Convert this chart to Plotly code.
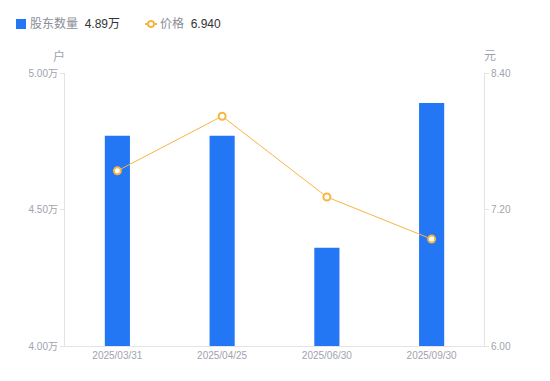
import plotly.graph_objects as go

dates = ["2025/03/31", "2025/04/25", "2025/06/30", "2025/09/30"]
holders = [4.77, 4.77, 4.36, 4.89]  # 万户
prices = [7.54, 8.02, 7.31, 6.94]   # 元
left_ticks = [4.00, 4.50, 5.00]
right_ticks = [6.00, 7.20, 8.40]

FONT = "Liberation Sans, Noto Sans CJK SC, sans-serif"
BLUE = "#2477F4"
ORANGE = "#F7B542"
GREY = "#A0A3AD"
LEG_GREY = "#8A8D97"
AXIS = "#E3E4E8"

OFF = 8  # page body margin
W, H = 550 - OFF, 381 - OFF
L, T = 65 - OFF, 73 - OFF
R = W - (484 - OFF)
B = H - (346 - OFF)
PW, PH = W - L - R, H - T - B


def px(x):  # screenshot pixel -> paper x
    return (x - OFF - L) / PW


def py(y):  # screenshot pixel -> paper y
    return (H - B - (y - OFF)) / PH


fig = go.Figure()
fig.add_trace(go.Bar(
    x=dates, y=holders, width=0.24, marker_color=BLUE, marker_line_width=0,
    yaxis="y", name="股东数量",
))
fig.add_trace(go.Scatter(
    x=dates, y=prices, mode="lines+markers", yaxis="y2",
    line=dict(color=ORANGE, width=1),
    marker=dict(symbol="circle", size=7, color="white", line=dict(color=ORANGE, width=2)),
    name="价格",
))

fig.update_layout(
    width=W, height=H,
    margin=dict(l=L, r=R, t=T, b=B, autoexpand=False),
    paper_bgcolor="white", plot_bgcolor="white",
    font=dict(family=FONT, size=11, color=GREY),
    showlegend=False,
    xaxis=dict(type="category", range=[-0.5, 3.5], showgrid=False,
               showline=True, linecolor=AXIS, linewidth=1, ticks="",
               tickfont=dict(size=10, color=GREY)),
    yaxis=dict(range=[4.0, 5.0], tickvals=left_ticks,
               ticktext=["%.2f万" % v for v in left_ticks],
               showgrid=False, zeroline=False, showline=True, linecolor=AXIS,
               ticks="outside", ticklen=4, tickcolor=AXIS,
               tickfont=dict(size=10, color=GREY)),
    yaxis2=dict(range=[6.0, 8.4], tickvals=right_ticks,
                ticktext=["%.2f" % v for v in right_ticks],
                overlaying="y", side="right",
                showgrid=False, zeroline=False, showline=True, linecolor=AXIS,
                ticks="outside", ticklen=4, tickcolor=AXIS,
                tickfont=dict(size=10, color=GREY)),
)

# axis unit labels
fig.add_annotation(text="户", xref="paper", yref="paper", x=px(59), y=py(56),
                   xanchor="center", yanchor="middle",
                   showarrow=False, font=dict(size=12, color=GREY))
fig.add_annotation(text="元", xref="paper", yref="paper", x=px(490), y=py(56),
                   xanchor="center", yanchor="middle",
                   showarrow=False, font=dict(size=12, color=GREY))

# custom legend
fig.add_shape(type="rect", xref="paper", yref="paper",
              x0=px(16), x1=px(26), y0=py(29), y1=py(19),
              fillcolor=BLUE, line=dict(width=0))
fig.add_annotation(xref="paper", yref="paper", x=px(28), y=py(24),
                   xanchor="left", yanchor="middle", showarrow=False,
                   text="股东数量  <span style='color:#333333'>%.2f万</span>" % holders[-1],
                   font=dict(size=12, color=LEG_GREY))
fig.add_shape(type="line", xref="paper", yref="paper",
              x0=px(145), x1=px(157), y0=py(24), y1=py(24),
              line=dict(color=ORANGE, width=2))
fig.add_shape(type="circle", xref="paper", yref="paper",
              x0=px(148), x1=px(154), y0=py(27), y1=py(21),
              fillcolor="white", line=dict(color=ORANGE, width=2))
fig.add_annotation(xref="paper", yref="paper", x=px(158), y=py(24),
                   xanchor="left", yanchor="middle", showarrow=False,
                   text="价格  <span style='color:#333333'>%.3f</span>" % prices[-1],
                   font=dict(size=12, color=LEG_GREY))

fig.write_html("out.html")
